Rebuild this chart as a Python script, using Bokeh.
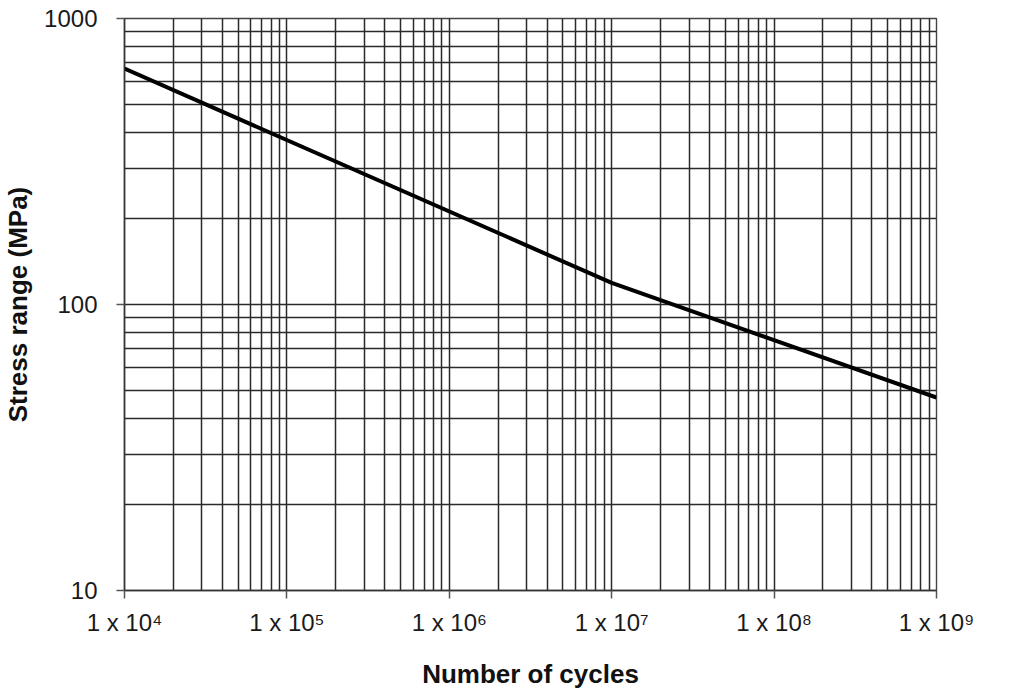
from bokeh.plotting import figure
from bokeh.models import FixedTicker, CustomJSTickFormatter, Range1d
from bokeh.embed import file_html
from bokeh.resources import INLINE

# Data
cycles = [1e4, 1e7, 1e9]
stress = [668, 119, 47.3]

x_decades = [4, 5, 6, 7, 8, 9]
y_decades = [1, 2, 3]
x_major = [10.0 ** d for d in x_decades]
x_minor = [m * 10.0 ** d for d in x_decades[:-1] for m in range(2, 10)]
y_major = [10.0 ** d for d in y_decades]
y_minor = [m * 10.0 ** d for d in y_decades[:-1] for m in range(2, 10)]

FONT = "Liberation Sans"
GRID = "#2a2a2a"

p = figure(width=1000, height=691, x_axis_type="log", y_axis_type="log",
           x_range=Range1d(1e4, 1e9), y_range=Range1d(10, 1000),
           output_backend="svg", toolbar_location=None,
           min_border_left=123, min_border_top=18, min_border_right=64,
           min_border_bottom=95)

p.line(cycles, stress, line_color="black", line_width=4)

p.xaxis.ticker = FixedTicker(ticks=x_major, minor_ticks=x_minor)
p.yaxis.ticker = FixedTicker(ticks=y_major, minor_ticks=y_minor)

p.xaxis.formatter = CustomJSTickFormatter(code="""
const sup = {'0':'\u2070','1':'\u00b9','2':'\u00b2','3':'\u00b3','4':'\u2074','5':'\u2075','6':'\u2076','7':'\u2077','8':'\u2078','9':'\u2079'};
const e = Math.round(Math.log10(tick)).toString();
return '1 x 10' + e.split('').map(c => sup[c]).join('');
""")
p.yaxis.formatter = CustomJSTickFormatter(code="return Math.round(tick).toString();")

for ax in (p.xaxis, p.yaxis):
    ax.major_label_text_font = FONT
    ax.major_label_text_font_size = "24px"
    ax.major_label_text_color = "#1a1a1a"
    ax.axis_label_text_font = FONT
    ax.axis_label_text_font_style = "bold"
    ax.axis_label_text_color = "#111111"
    ax.axis_label_text_font_size = "26px"
    ax.major_tick_out = 8
    ax.major_tick_in = 0
    ax.minor_tick_out = 0
    ax.minor_tick_in = 0
    ax.axis_line_color = "#333333"
    ax.axis_line_width = 1.5
    ax.major_tick_line_color = "#555555"
    ax.major_tick_line_width = 1.5

p.xaxis.axis_label = "Number of cycles"
p.xaxis.major_label_standoff = 10
p.xaxis.axis_label_standoff = 20

p.yaxis.axis_label = "Stress range (MPa)"
p.yaxis.major_label_standoff = 19
p.yaxis.axis_label_standoff = 8

for g in (p.xgrid, p.ygrid):
    g.grid_line_color = GRID
    g.grid_line_width = 1.5
    g.minor_grid_line_color = GRID
    g.minor_grid_line_width = 1.5

p.outline_line_color = "#444444"
p.outline_line_width = 1.4
p.background_fill_color = "white"
p.border_fill_color = "white"

open("out.html", "w").write(file_html(p, INLINE))
